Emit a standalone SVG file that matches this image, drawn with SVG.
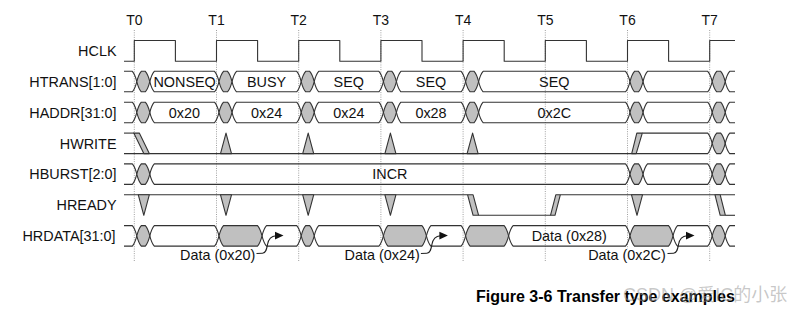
<svg xmlns="http://www.w3.org/2000/svg" xmlns:xlink="http://www.w3.org/1999/xlink" width="807" height="315" viewBox="0 0 807 315">
<style>
.ln{fill:none;stroke:#333;stroke-width:1.1;stroke-linejoin:round}
.gr{fill:#c0c0c0;stroke:#333;stroke-width:1.1;stroke-linejoin:round}
.t{font-family:"Liberation Sans",Arial,sans-serif;font-size:14.4px;fill:#111}
.lbl{text-anchor:end}
.c{text-anchor:middle}
.grid{stroke:#a0a0a0;stroke-width:1;stroke-dasharray:1 1.3}
</style>
<defs>
<path id="hex" d="M0,10.25 q1.8,-7.25 4.5,-10.25 h4 q2.7,3 4.5,10.25 q-1.8,7.25 -4.5,10.25 h-4 q-2.7,-3 -4.5,-10.25z" fill="#c0c0c0" stroke="#333" stroke-width="1.1"/>
<path id="blk" d="M0,10.25 q1.8,-7.25 4.5,-10.25 h34 q2.7,3 4.5,10.25 q-1.8,7.25 -4.5,10.25 h-34 q-2.7,-3 -4.5,-10.25z" fill="#c0c0c0" stroke="#333" stroke-width="1.1"/>
<polygon id="up" points="4,20.5 9.5,0 15,20.5" fill="#c0c0c0" stroke="#333" stroke-width="1.1" stroke-linejoin="round"/>
<polygon id="dn" points="4,0 15,0 9.5,20.5" fill="#c0c0c0" stroke="#333" stroke-width="1.1" stroke-linejoin="round"/>
<g id="callout">
<path d="M40,253.5 L46,253.2 C49.5,253 50.2,249 51,244.5 C51.8,240 54,236 59.5,235.7" fill="none" stroke="#222" stroke-width="1.1"/>
<polygon points="58.5,231.8 67,235.6 58.5,239.4" fill="#111"/>
</g>
</defs>
<rect width="807" height="315" fill="#fff"/>

<g id="time-markers">
<g class="grid">
<line x1="134.3" y1="30" x2="134.3" y2="262"/>
<line x1="216.5" y1="30" x2="216.5" y2="262"/>
<line x1="298.7" y1="30" x2="298.7" y2="262"/>
<line x1="380.9" y1="30" x2="380.9" y2="262"/>
<line x1="463.1" y1="30" x2="463.1" y2="262"/>
<line x1="545.3" y1="30" x2="545.3" y2="262"/>
<line x1="627.5" y1="30" x2="627.5" y2="262"/>
<line x1="709.7" y1="30" x2="709.7" y2="262"/>
</g>
<g class="t c" style="font-size:14px">
<text x="134.3" y="25">T0</text>
<text x="216.5" y="25">T1</text>
<text x="298.7" y="25">T2</text>
<text x="380.9" y="25">T3</text>
<text x="463.1" y="25">T4</text>
<text x="545.3" y="25">T5</text>
<text x="627.5" y="25">T6</text>
<text x="709.7" y="25">T7</text>
</g>
</g>

<g id="HCLK">
<text class="t lbl" x="116.5" y="56">HCLK</text>
<path class="ln" d="M124,61.2 H134.3 V40.5 H175.4 V61.2 H216.5 V40.5 H257.6 V61.2 H298.7 V40.5 H339.8 V61.2 H380.9 V40.5 H422 V61.2 H463.1 V40.5 H504.2 V61.2 H545.3 V40.5 H586.4 V61.2 H627.5 V40.5 H668.6 V61.2 H709.7 V40.5 H735"/>
</g>

<g id="HTRANS">
<text class="t lbl" x="116.5" y="86.8">HTRANS[1:0]</text>
<path class="ln" d="M124,71.3 H132.3 q2.7,3 4.5,10.25 q-1.8,7.25 -4.5,10.25 H124"/>
<path class="ln" d="M149.8,81.55 q1.8,-7.25 4.5,-10.25 H214.5 q2.7,3 4.5,10.25 q-1.8,7.25 -4.5,10.25 H154.3 q-2.7,-3 -4.5,-10.25z"/>
<path class="ln" d="M232,81.55 q1.8,-7.25 4.5,-10.25 H296.7 q2.7,3 4.5,10.25 q-1.8,7.25 -4.5,10.25 H236.5 q-2.7,-3 -4.5,-10.25z"/>
<path class="ln" d="M314.2,81.55 q1.8,-7.25 4.5,-10.25 H378.9 q2.7,3 4.5,10.25 q-1.8,7.25 -4.5,10.25 H318.7 q-2.7,-3 -4.5,-10.25z"/>
<path class="ln" d="M396.4,81.55 q1.8,-7.25 4.5,-10.25 H461.1 q2.7,3 4.5,10.25 q-1.8,7.25 -4.5,10.25 H400.9 q-2.7,-3 -4.5,-10.25z"/>
<path class="ln" d="M478.6,81.55 q1.8,-7.25 4.5,-10.25 H625.5 q2.7,3 4.5,10.25 q-1.8,7.25 -4.5,10.25 H483.1 q-2.7,-3 -4.5,-10.25z"/>
<path class="ln" d="M643,81.55 q1.8,-7.25 4.5,-10.25 H707.7 q2.7,3 4.5,10.25 q-1.8,7.25 -4.5,10.25 H647.5 q-2.7,-3 -4.5,-10.25z"/>
<path class="ln" d="M735,71.3 H729.7 q-2.7,3 -4.5,10.25 q1.8,7.25 4.5,10.25 H735"/>
<use xlink:href="#hex" x="136.8" y="71.3"/>
<use xlink:href="#hex" x="219" y="71.3"/>
<use xlink:href="#hex" x="301.2" y="71.3"/>
<use xlink:href="#hex" x="383.4" y="71.3"/>
<use xlink:href="#hex" x="465.6" y="71.3"/>
<use xlink:href="#hex" x="630" y="71.3"/>
<use xlink:href="#hex" x="712.2" y="71.3"/>
<g class="t c">
<text x="184.6" y="86.8">NONSEQ</text>
<text x="266.6" y="86.8">BUSY</text>
<text x="348.8" y="86.8">SEQ</text>
<text x="431" y="86.8">SEQ</text>
<text x="554.3" y="86.8">SEQ</text>
</g>
</g>

<g id="HADDR">
<text class="t lbl" x="116.5" y="117.7">HADDR[31:0]</text>
<path class="ln" d="M124,102.2 H132.3 q2.7,3 4.5,10.25 q-1.8,7.25 -4.5,10.25 H124"/>
<path class="ln" d="M149.8,112.45 q1.8,-7.25 4.5,-10.25 H214.5 q2.7,3 4.5,10.25 q-1.8,7.25 -4.5,10.25 H154.3 q-2.7,-3 -4.5,-10.25z"/>
<path class="ln" d="M232,112.45 q1.8,-7.25 4.5,-10.25 H296.7 q2.7,3 4.5,10.25 q-1.8,7.25 -4.5,10.25 H236.5 q-2.7,-3 -4.5,-10.25z"/>
<path class="ln" d="M314.2,112.45 q1.8,-7.25 4.5,-10.25 H378.9 q2.7,3 4.5,10.25 q-1.8,7.25 -4.5,10.25 H318.7 q-2.7,-3 -4.5,-10.25z"/>
<path class="ln" d="M396.4,112.45 q1.8,-7.25 4.5,-10.25 H461.1 q2.7,3 4.5,10.25 q-1.8,7.25 -4.5,10.25 H400.9 q-2.7,-3 -4.5,-10.25z"/>
<path class="ln" d="M478.6,112.45 q1.8,-7.25 4.5,-10.25 H625.5 q2.7,3 4.5,10.25 q-1.8,7.25 -4.5,10.25 H483.1 q-2.7,-3 -4.5,-10.25z"/>
<path class="ln" d="M643,112.45 q1.8,-7.25 4.5,-10.25 H707.7 q2.7,3 4.5,10.25 q-1.8,7.25 -4.5,10.25 H647.5 q-2.7,-3 -4.5,-10.25z"/>
<path class="ln" d="M735,102.2 H729.7 q-2.7,3 -4.5,10.25 q1.8,7.25 4.5,10.25 H735"/>
<use xlink:href="#hex" x="136.8" y="102.2"/>
<use xlink:href="#hex" x="219" y="102.2"/>
<use xlink:href="#hex" x="301.2" y="102.2"/>
<use xlink:href="#hex" x="383.4" y="102.2"/>
<use xlink:href="#hex" x="465.6" y="102.2"/>
<use xlink:href="#hex" x="630" y="102.2"/>
<use xlink:href="#hex" x="712.2" y="102.2"/>
<g class="t c">
<text x="184.4" y="117.7">0x20</text>
<text x="266.6" y="117.7">0x24</text>
<text x="348.8" y="117.7">0x24</text>
<text x="431" y="117.7">0x28</text>
<text x="554.3" y="117.7">0x2C</text>
</g>
</g>

<g id="HWRITE">
<text class="t lbl" x="116.5" y="148.6">HWRITE</text>
<path class="ln" d="M124,133.1 H134"/>
<path class="ln" d="M124,153.6 H707.7 q2.7,-3 4.5,-10.25"/>
<path class="ln" d="M642.3,133.1 H707.7 q2.7,3 4.5,10.25"/>
<polygon class="gr" points="133.8,133.1 139.3,133.1 149.3,153.6 143.8,153.6"/>
<use xlink:href="#up" x="216.5" y="133.1"/>
<use xlink:href="#up" x="298.7" y="133.1"/>
<use xlink:href="#up" x="380.9" y="133.1"/>
<use xlink:href="#up" x="463.1" y="133.1"/>
<polygon class="gr" points="631.7,153.6 636.2,153.6 642.3,133.1 636.8,133.1"/>
<use xlink:href="#hex" x="712.2" y="133.1"/>
<path class="ln" d="M735,133.1 H729.7 q-2.7,3 -4.5,10.25 q1.8,7.25 4.5,10.25 H735"/>
</g>

<g id="HBURST">
<text class="t lbl" x="116.5" y="179.4">HBURST[2:0]</text>
<path class="ln" d="M124,163.9 H132.3 q2.7,3 4.5,10.25 q-1.8,7.25 -4.5,10.25 H124"/>
<path class="ln" d="M149.8,174.15 q1.8,-7.25 4.5,-10.25 H625.5 q2.7,3 4.5,10.25 q-1.8,7.25 -4.5,10.25 H154.3 q-2.7,-3 -4.5,-10.25z"/>
<path class="ln" d="M643,174.15 q1.8,-7.25 4.5,-10.25 H707.7 q2.7,3 4.5,10.25 q-1.8,7.25 -4.5,10.25 H647.5 q-2.7,-3 -4.5,-10.25z"/>
<path class="ln" d="M735,163.9 H729.7 q-2.7,3 -4.5,10.25 q1.8,7.25 4.5,10.25 H735"/>
<use xlink:href="#hex" x="136.8" y="163.9"/>
<use xlink:href="#hex" x="630" y="163.9"/>
<use xlink:href="#hex" x="712.2" y="163.9"/>
<text class="t c" x="389.9" y="179.4">INCR</text>
</g>

<g id="HREADY">
<text class="t lbl" x="116.5" y="210.3">HREADY</text>
<path class="ln" d="M124,194.8 H467.6"/>
<path class="ln" d="M478.6,215.3 H550.5"/>
<path class="ln" d="M560.3,194.8 H735"/>
<path class="ln" d="M725.4,215.3 H735"/>
<use xlink:href="#dn" x="134.3" y="194.8"/>
<use xlink:href="#dn" x="216.5" y="194.8"/>
<use xlink:href="#dn" x="298.7" y="194.8"/>
<use xlink:href="#dn" x="380.9" y="194.8"/>
<use xlink:href="#dn" x="627.5" y="194.8"/>
<polygon class="gr" points="467.6,194.8 473.1,194.8 478.6,215.3 473.1,215.3"/>
<polygon class="gr" points="550.5,215.3 555,215.3 560.3,194.8 555.8,194.8"/>
<polygon class="gr" points="715,194.8 720.2,194.8 725.4,215.3 720.2,215.3"/>
</g>

<g id="HRDATA">
<text class="t lbl" x="115.5" y="241.1">HRDATA[31:0]</text>
<path class="ln" d="M124,225.6 H132.3 q2.7,3 4.5,10.25 q-1.8,7.25 -4.5,10.25 H124"/>
<path class="ln" d="M149.8,235.85 q1.8,-7.25 4.5,-10.25 H214.5 q2.7,3 4.5,10.25 q-1.8,7.25 -4.5,10.25 H154.3 q-2.7,-3 -4.5,-10.25z"/>
<path class="ln" d="M262,235.85 q1.8,-7.25 4.5,-10.25 H296.7 q2.7,3 4.5,10.25 q-1.8,7.25 -4.5,10.25 H266.5 q-2.7,-3 -4.5,-10.25z"/>
<path class="ln" d="M314.2,235.85 q1.8,-7.25 4.5,-10.25 H378.9 q2.7,3 4.5,10.25 q-1.8,7.25 -4.5,10.25 H318.7 q-2.7,-3 -4.5,-10.25z"/>
<path class="ln" d="M426.4,235.85 q1.8,-7.25 4.5,-10.25 H461.1 q2.7,3 4.5,10.25 q-1.8,7.25 -4.5,10.25 H430.9 q-2.7,-3 -4.5,-10.25z"/>
<path class="ln" d="M508.6,235.85 q1.8,-7.25 4.5,-10.25 H625.5 q2.7,3 4.5,10.25 q-1.8,7.25 -4.5,10.25 H513.1 q-2.7,-3 -4.5,-10.25z"/>
<path class="ln" d="M673,235.85 q1.8,-7.25 4.5,-10.25 H707.7 q2.7,3 4.5,10.25 q-1.8,7.25 -4.5,10.25 H677.5 q-2.7,-3 -4.5,-10.25z"/>
<path class="ln" d="M735,225.6 H729.7 q-2.7,3 -4.5,10.25 q1.8,7.25 4.5,10.25 H735"/>
<use xlink:href="#hex" x="136.8" y="225.6"/>
<use xlink:href="#blk" x="219" y="225.6"/>
<use xlink:href="#hex" x="301.2" y="225.6"/>
<use xlink:href="#blk" x="383.4" y="225.6"/>
<use xlink:href="#blk" x="465.6" y="225.6"/>
<use xlink:href="#blk" x="630" y="225.6"/>
<use xlink:href="#hex" x="712.2" y="225.6"/>
<text class="t c" x="569.3" y="241.1">Data (0x28)</text>
</g>

<g id="connectors">
<g transform="translate(216.5,0)">
<rect x="-38" y="248.5" width="78" height="14" fill="#fff"/>
<use xlink:href="#callout"/>
<text class="t c" x="1.2" y="259.5">Data (0x20)</text>
</g>
<g transform="translate(380.9,0)">
<rect x="-38" y="248.5" width="78" height="14" fill="#fff"/>
<use xlink:href="#callout"/>
<text class="t c" x="1.2" y="259.5">Data (0x24)</text>
</g>
<g transform="translate(627.5,0)">
<rect x="-40" y="248.5" width="80" height="14" fill="#fff"/>
<use xlink:href="#callout"/>
<text class="t c" x="-0.6" y="259.5">Data (0x2C)</text>
</g>
</g>

<text x="476" y="301.5" style="font-family:'Liberation Sans',Arial,sans-serif;font-size:16px;font-weight:bold;fill:#000">Figure 3-6 Transfer type examples</text>
<text x="623" y="301" style="font-family:'Liberation Sans','Noto Sans CJK SC',sans-serif;font-size:18px;fill:#999;fill-opacity:0.55">CSDN @爱IC的小张</text>
</svg>
